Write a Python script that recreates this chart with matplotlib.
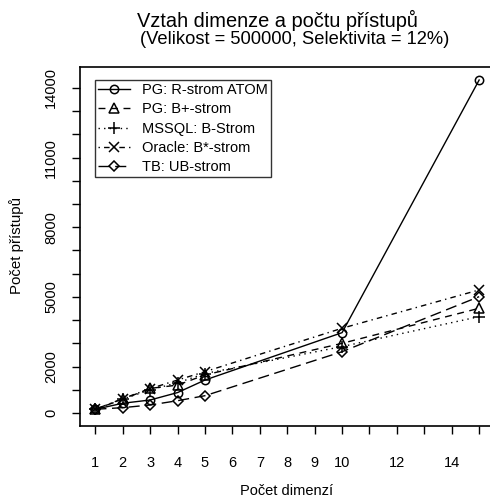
import matplotlib
matplotlib.use("Agg")
import matplotlib.pyplot as plt

plt.rcParams['font.family'] = ['Liberation Sans', 'DejaVu Sans']

dims = [1, 2, 3, 4, 5, 10, 15]
series_names = ["PG: R-strom ATOM", "PG: B+-strom", "MSSQL: B-Strom",
                "Oracle: B*-strom", "TB: UB-strom"]
pg_rstrom = [160, 420, 560, 880, 1420, 3460, 14340]
pg_bplus = [160, 590, 1060, 1200, 1640, 3000, 4510]
mssql_b = [160, 600, 1000, 1300, 1700, 2860, 4150]
oracle_bstar = [160, 620, 1050, 1420, 1780, 3650, 5300]
tb_ub = [160, 230, 345, 530, 745, 2640, 5010]

x_ticks = list(range(1, 16))
x_labels = ["1", "2", "3", "4", "5", "6", "7", "8", "9", "10", "", "12", "", "14", ""]
y_ticks = list(range(0, 15000, 1000))
y_labeled = [0, 2000, 5000, 8000, 11000, 14000]

title = "Vztah dimenze a počtu přístupů"
subtitle = "(Velikost = 500000, Selektivita = 12%)"
xlabel = "Počet dimenzí"
ylabel = "Počet přístupů"

fig = plt.figure(figsize=(4.9, 5.01), dpi=100)
ax = fig.add_axes([80/490, 75/501, (494.5-80)/490, (426-67)/501])

markers = ['o', '^', '+', 'x', 'D']
msizes = [6, 6.5, 8, 7, 5.5]
dashes = [None, (5, 4), (1, 3), (1, 3, 4, 3), (8, 4)]
data = [pg_rstrom, pg_bplus, mssql_b, oracle_bstar, tb_ub]

for name, vals, m, ms, d in zip(series_names, data, markers, msizes, dashes):
    line, = ax.plot(dims, vals, color='black', linewidth=1.0, marker=m,
                    markersize=ms, markerfacecolor='none', markeredgecolor='black',
                    markeredgewidth=1.1, label=name)
    if d is not None:
        line.set_dashes(d)

ax.set_xlim(0.44, 15.56)
ax.set_ylim(-560, 14900)
ax.set_xticks(x_ticks)
ax.set_xticklabels(x_labels)
ax.set_yticks(y_ticks)
ax.set_yticklabels([str(v) if v in y_labeled else "" for v in y_ticks],
                   rotation=90, va='center')
ax.tick_params(direction='out', length=5.8, width=1, labelsize=10.5)
ax.tick_params(axis='x', pad=16)
ax.tick_params(axis='y', pad=10)
for s in ax.spines.values():
    s.set_linewidth(1.2)

fig.text(277.5/490, 1 - 20/501, title, ha='center', va='center', fontsize=14.4)
fig.text(295/490, 1 - 40/501, subtitle, ha='center', va='center', fontsize=13.2)
fig.text(287/490, 1 - 491/501, xlabel, ha='center', va='center', fontsize=10.5)
fig.text(17/490, 1 - 246/501, ylabel, ha='center', va='center', fontsize=10.8, rotation=90)

leg = ax.legend(loc='upper left', bbox_to_anchor=(95/490, 1 - 80/501),
                bbox_transform=fig.transFigure, borderaxespad=0,
                frameon=True, fancybox=False, edgecolor='black',
                fontsize=10.5, handlelength=2.2, labelspacing=0.36,
                handletextpad=0.8, borderpad=0.22)
leg.get_frame().set_linewidth(1.0)

fig.savefig("out.png", dpi=100)
